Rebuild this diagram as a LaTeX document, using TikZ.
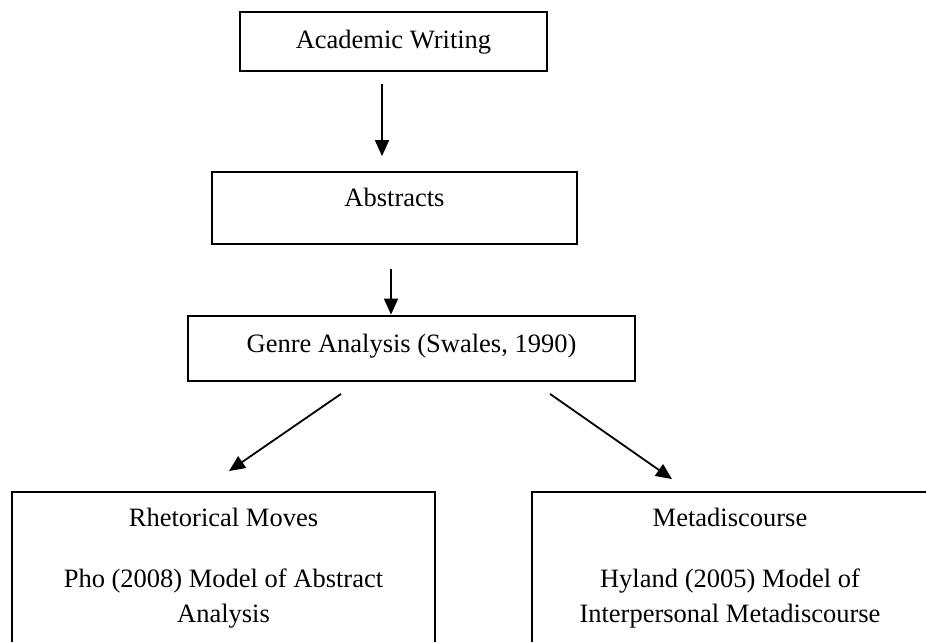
\documentclass[tikz,border=0pt]{standalone}
\usepackage{fontspec}
\setmainfont{Liberation Serif}
\usetikzlibrary{arrows.meta}
\tikzset{
  boxnode/.style={draw=black, line width=1.8pt, rectangle, inner sep=0pt,
    font=\fontsize{26.5}{30}\selectfont},
  txt/.style={inner sep=0pt, anchor=base, font=\fontsize{26.5}{30}\selectfont},
  arr/.style={line width=1.8pt, -{Triangle[length=16pt,width=14pt]}}
}
\begin{document}
\begin{tikzpicture}[x=1pt,y=-1pt]
\clip (0,0) rectangle (926,641);
\fill[white] (0,0) rectangle (926,641);
% boxes
\node[boxnode, minimum width=307pt, minimum height=59pt, text height=36pt, text depth=23pt]
  (b1) at (393.5,41.5) {Academic Writing};
\node[boxnode, minimum width=365pt, minimum height=72pt, text height=34.7pt, text depth=37.3pt]
  (b2) at (394.5,208) {Abstracts};
\node[boxnode, minimum width=447pt, minimum height=65pt, text height=36pt, text depth=29pt]
  (b3) at (411.5,348.5) {Genre Analysis (Swales, 1990)};
\node[boxnode, minimum width=423pt, minimum height=200pt] (b4) at (223.5,592) {};
\node[boxnode, minimum width=408pt, minimum height=200pt] (b5) at (736,592) {};
% texts of the lower boxes
\node[txt] (t4a) at (223.5,526.5) {Rhetorical Moves};
\node[txt] (t4b) at (223.5,587.5) {Pho (2008) Model of Abstract};
\node[txt] (t4c) at (223.5,622.7) {Analysis};
\node[txt] (t5a) at (730,526.5) {Metadiscourse};
\node[txt] (t5b) at (730,587.5) {Hyland (2005) Model of};
\node[txt] (t5c) at (730,622.7) {Interpersonal Metadiscourse};
% connectors
\draw[arr] ([xshift=-11.5pt,yshift=-12pt]b1.south) -- ([xshift=-12.5pt,yshift=15pt]b2.north);
\draw[arr] ([xshift=-3.5pt,yshift=-24pt]b2.south) -- ([xshift=-20.5pt,yshift=0.5pt]b3.north);
\draw[arr] ([xshift=-70.5pt,yshift=-12pt]b3.south) -- ([xshift=5.5pt,yshift=20pt]b4.north);
\draw[arr] ([xshift=138.5pt,yshift=-12pt]b3.south) -- ([xshift=-64pt,yshift=12pt]b5.north);
\end{tikzpicture}
\end{document}
